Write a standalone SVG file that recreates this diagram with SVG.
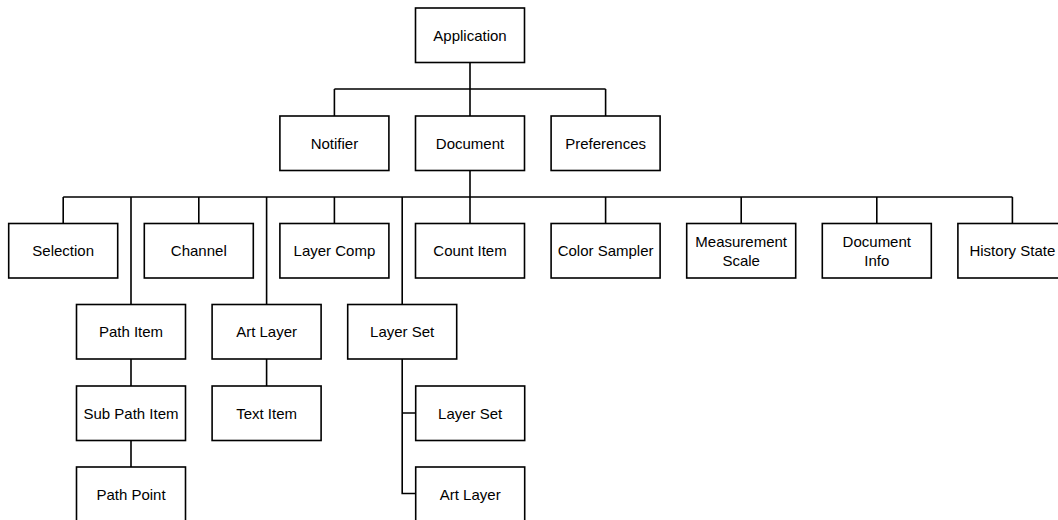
<svg xmlns="http://www.w3.org/2000/svg" width="1058" height="520" viewBox="0 0 1058 520">
<style>
rect{fill:#fff;stroke:#000;stroke-width:1.6}
text{font-family:"Liberation Sans",Arial,sans-serif;font-size:15px;fill:#000;text-anchor:middle;dominant-baseline:central}
.c path{fill:none;stroke:#000;stroke-width:1.6}
</style>
<rect x="0" y="0" width="1058" height="520" style="stroke:none"/>
<g class="c" id="connectors">
<path d="M470 62.5V89M334.4 89H605.6M334.4 89V116M470 89V116M605.6 89V116"/>
<path d="M470 170.5V197M63.2 197H1012.4M63.2 197V223.5M198.8 197V223.5M334.4 197V223.5M470 197V223.5M605.6 197V223.5M741.2 197V223.5M876.8 197V223.5M1012.4 197V223.5"/>
<path d="M131 197V304.5M266.6 197V304.5M402.2 197V304.5"/>
<path d="M131 359V386M131 440.5V467M266.6 359V386M402.2 359V493.5H415.7M402.2 413H415.7"/>
</g>
<g id="application"><rect x="415.5" y="8" width="109" height="54.5"/><text x="470" y="35.2">Application</text></g>
<g id="notifier"><rect x="279.9" y="116" width="109" height="54.5"/><text x="334.4" y="143.2">Notifier</text></g>
<g id="document"><rect x="415.5" y="116" width="109" height="54.5"/><text x="470" y="143.2">Document</text></g>
<g id="preferences"><rect x="551.1" y="116" width="109" height="54.5"/><text x="605.6" y="143.2">Preferences</text></g>
<g id="selection"><rect x="8.7" y="223.5" width="109" height="54.5"/><text x="63.2" y="250.7">Selection</text></g>
<g id="channel"><rect x="144.3" y="223.5" width="109" height="54.5"/><text x="198.8" y="250.7">Channel</text></g>
<g id="layer-comp"><rect x="279.9" y="223.5" width="109" height="54.5"/><text x="334.4" y="250.7">Layer Comp</text></g>
<g id="count-item"><rect x="415.5" y="223.5" width="109" height="54.5"/><text x="470" y="250.7">Count Item</text></g>
<g id="color-sampler"><rect x="551.1" y="223.5" width="109" height="54.5"/><text x="605.6" y="250.7">Color Sampler</text></g>
<g id="measurement-scale"><rect x="686.7" y="223.5" width="109" height="54.5"/><text x="741.2" y="241.2">Measurement</text><text x="741.2" y="260.6">Scale</text></g>
<g id="document-info"><rect x="822.3" y="223.5" width="109" height="54.5"/><text x="876.8" y="241.2">Document</text><text x="876.8" y="260.6">Info</text></g>
<g id="history-state"><rect x="957.9" y="223.5" width="109" height="54.5"/><text x="1012.4" y="250.7">History State</text></g>
<g id="path-item"><rect x="76.5" y="304.5" width="109" height="54.5"/><text x="131" y="331.7">Path Item</text></g>
<g id="sub-path-item"><rect x="76.5" y="386" width="109" height="54.5"/><text x="131" y="413.2">Sub Path Item</text></g>
<g id="path-point"><rect x="76.5" y="467" width="109" height="54.5"/><text x="131" y="494.2">Path Point</text></g>
<g id="art-layer"><rect x="212.1" y="304.5" width="109" height="54.5"/><text x="266.6" y="331.7">Art Layer</text></g>
<g id="text-item"><rect x="212.1" y="386" width="109" height="54.5"/><text x="266.6" y="413.2">Text Item</text></g>
<g id="layer-set"><rect x="347.7" y="304.5" width="109" height="54.5"/><text x="402.2" y="331.7">Layer Set</text></g>
<g id="layer-set-child"><rect x="415.7" y="386" width="109" height="54.5"/><text x="470.2" y="413.2">Layer Set</text></g>
<g id="art-layer-child"><rect x="415.7" y="467" width="109" height="54.5"/><text x="470.2" y="494.2">Art Layer</text></g>
</svg>
